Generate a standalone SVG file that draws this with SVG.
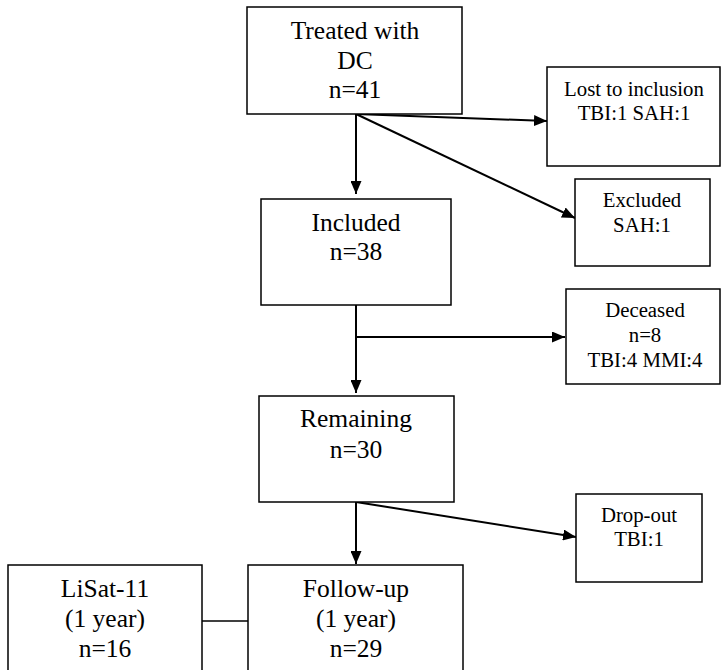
<svg xmlns="http://www.w3.org/2000/svg" width="721" height="670" viewBox="0 0 721 670">
<style>
.box{fill:#fff;stroke:#000;stroke-width:1.5}
.t{font-family:"Liberation Serif","Times New Roman",serif;fill:#000;text-anchor:middle}
.big{font-size:25.5px}
.sm{font-size:20.8px}
.ln{stroke:#000;stroke-width:2;fill:none}
</style>
<defs>
<marker id="ah" viewBox="0 0 13 11" refX="13" refY="5.5" markerWidth="13" markerHeight="11" markerUnits="userSpaceOnUse" orient="auto">
<path d="M0,0 L13,5.5 L0,11 Z" fill="#000"/>
</marker>
</defs>
<rect width="721" height="670" fill="#fff"/>
<g id="connectors">
<line class="ln" x1="356" y1="114" x2="356" y2="194" marker-end="url(#ah)"/>
<line class="ln" x1="356" y1="114" x2="547" y2="121" marker-end="url(#ah)"/>
<line class="ln" x1="356" y1="114" x2="575" y2="218" marker-end="url(#ah)"/>
<line class="ln" x1="356" y1="305" x2="356" y2="393" marker-end="url(#ah)"/>
<line class="ln" x1="356" y1="337" x2="565" y2="337" marker-end="url(#ah)"/>
<line class="ln" x1="356" y1="502" x2="356" y2="564" marker-end="url(#ah)"/>
<line class="ln" x1="356" y1="502" x2="576" y2="537" marker-end="url(#ah)"/>
<line stroke="#000" stroke-width="1.4" x1="202" y1="621" x2="248" y2="621"/>
</g>
<g id="treated">
<rect class="box" x="247" y="7" width="215" height="107"/>
<text class="t big" x="355" y="39">Treated with</text>
<text class="t big" x="355" y="69">DC</text>
<text class="t big" x="355" y="98">n=41</text>
</g>
<g id="lost">
<rect class="box" x="547" y="67" width="173" height="99"/>
<text class="t sm" x="634" y="96">Lost to inclusion</text>
<text class="t sm" x="634" y="120">TBI:1 SAH:1</text>
</g>
<g id="excluded">
<rect class="box" x="575" y="179" width="135" height="87"/>
<text class="t sm" x="642" y="207">Excluded</text>
<text class="t sm" x="642" y="232">SAH:1</text>
</g>
<g id="included">
<rect class="box" x="261" y="199" width="190" height="106"/>
<text class="t big" x="356" y="231">Included</text>
<text class="t big" x="356" y="260">n=38</text>
</g>
<g id="deceased">
<rect class="box" x="566" y="289" width="154" height="95"/>
<text class="t sm" x="645" y="317">Deceased</text>
<text class="t sm" x="645" y="342">n=8</text>
<text class="t sm" x="645" y="367">TBI:4 MMI:4</text>
</g>
<g id="remaining">
<rect class="box" x="259" y="396" width="195" height="106"/>
<text class="t big" x="356" y="427">Remaining</text>
<text class="t big" x="356" y="458">n=30</text>
</g>
<g id="dropout">
<rect class="box" x="576" y="494" width="126" height="88"/>
<text class="t sm" x="639" y="522">Drop-out</text>
<text class="t sm" x="639" y="546">TBI:1</text>
</g>
<g id="lisat">
<rect class="box" x="8" y="565" width="194" height="120"/>
<text class="t big" x="105" y="597">LiSat-11</text>
<text class="t big" x="105" y="627">(1 year)</text>
<text class="t big" x="105" y="657">n=16</text>
</g>
<g id="followup">
<rect class="box" x="248" y="565" width="215" height="120"/>
<text class="t big" x="356" y="597">Follow-up</text>
<text class="t big" x="356" y="627">(1 year)</text>
<text class="t big" x="356" y="657">n=29</text>
</g>
</svg>
